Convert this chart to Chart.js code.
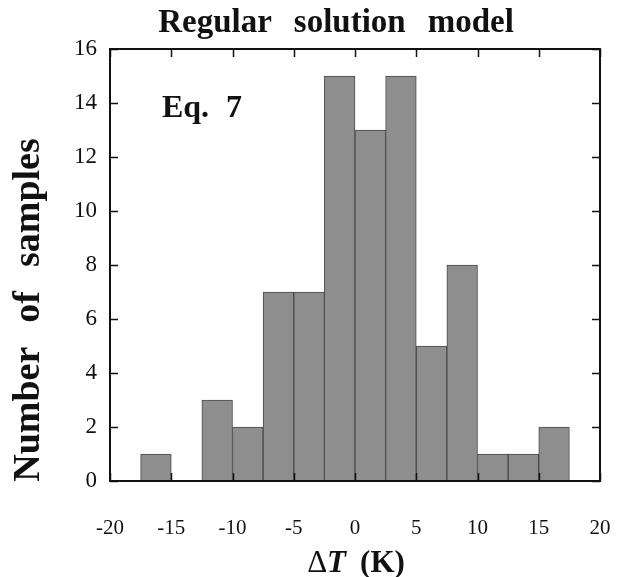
<!DOCTYPE html>
<html><head><meta charset="utf-8">
<script src="https://cdn.jsdelivr.net/npm/chart.js@4"></script>
<style>html,body{margin:0;padding:0;background:#fff}#wrap{width:628px;height:577px}</style>
</head><body><div id="wrap"><canvas id="c" width="628" height="577"></canvas></div>
<script>
const binCenters = [-16.25,-13.75,-11.25,-8.75,-6.25,-3.75,-1.25,1.25,3.75,6.25,8.75,11.25,13.75,16.25];
const counts = [1,0,3,2,7,7,15,13,15,5,8,1,1,2];
const xTicks = [-20,-15,-10,-5,0,5,10,15,20];
const yTicks = [0,2,4,6,8,10,12,14,16];
const titleWords = ['Regular', 'solution', 'model'];
const yTitleWords = ['Number', 'of', 'samples'];
const annotationWords = ['Eq.', '7'];

const SERIF = '"Liberation Serif", "Times New Roman", serif';

function drawWords(ctx, words, font, centerX, y, gap) {
  ctx.font = font;
  const ws = words.map(w => ctx.measureText(w).width);
  const total = ws.reduce((a, b) => a + b, 0) + gap * (words.length - 1);
  let x = centerX - total / 2;
  ctx.textAlign = 'left';
  words.forEach((w, i) => { ctx.fillText(w, x, y); x += ws[i] + gap; });
}

const decor = {
  id: 'decor',
  afterDraw(chart) {
    const ctx = chart.ctx, a = chart.chartArea;
    const xs = chart.scales.x, ys = chart.scales.y;
    ctx.save();
    ctx.strokeStyle = '#111'; ctx.lineWidth = 2;
    ctx.strokeRect(a.left, a.top, a.right - a.left, a.bottom - a.top);
    ctx.lineWidth = 1.5;
    ctx.beginPath();
    const tl = 8;
    xTicks.forEach(v => {
      const px = Math.round(xs.getPixelForValue(v)) + 0.5;
      ctx.moveTo(px, a.bottom); ctx.lineTo(px, a.bottom - tl);
      ctx.moveTo(px, a.top); ctx.lineTo(px, a.top + tl);
    });
    yTicks.forEach(v => {
      const py = Math.round(ys.getPixelForValue(v)) + 0.5;
      ctx.moveTo(a.left, py); ctx.lineTo(a.left + tl, py);
      ctx.moveTo(a.right, py); ctx.lineTo(a.right - tl, py);
    });
    ctx.stroke();
    ctx.fillStyle = '#111';
    ctx.textBaseline = 'alphabetic';
    drawWords(ctx, titleWords, 'bold 33px ' + SERIF, 336, 32, 22);
    drawWords(ctx, annotationWords, 'bold 32px ' + SERIF, 202, 117, 17);
    ctx.save();
    ctx.translate(39, 310);
    ctx.rotate(-Math.PI / 2);
    drawWords(ctx, yTitleWords, 'bold 38px ' + SERIF, 0, 0, 24);
    ctx.restore();
    const parts = [
      {t: '\u0394', f: '31px ' + SERIF, g: 0},
      {t: 'T', f: 'italic bold 31px ' + SERIF, g: 14},
      {t: '(K)', f: 'bold 31px ' + SERIF, g: 0}
    ];
    let total = 0;
    parts.forEach(p => { ctx.font = p.f; p.w = ctx.measureText(p.t).width; total += p.w + p.g; });
    let x = 356 - total / 2;
    ctx.textAlign = 'left';
    parts.forEach(p => { ctx.font = p.f; ctx.fillText(p.t, x, 572); x += p.w + p.g; });
    ctx.restore();
  }
};

new Chart(document.getElementById('c'), {
  type: 'bar',
  data: {
    datasets: [{
      data: binCenters.map((c, i) => ({x: c, y: counts[i]})),
      backgroundColor: '#8e8e8e',
      borderColor: '#4a4a4a',
      borderWidth: 1,
      barPercentage: 1.0,
      categoryPercentage: 1.0
    }]
  },
  options: {
    responsive: false,
    animation: false,
    layout: {padding: {top: 49, right: 28, left: 0, bottom: 0}},
    plugins: {legend: {display: false}, tooltip: {enabled: false}, title: {display: false}},
    scales: {
      x: {
        type: 'linear', min: -20, max: 20, offset: false,
        grid: {display: false, drawTicks: false},
        border: {display: false},
        afterBuildTicks(s) { s.ticks = xTicks.map(v => ({value: v})); },
        afterFit(s) { s.height = 577 - 481; s.paddingLeft = 0; s.paddingRight = 0; },
        ticks: {color: '#111', font: {family: SERIF, size: 21}, padding: 35, maxRotation: 0,
          callback: v => String(v)}
      },
      y: {
        min: 0, max: 16,
        grid: {display: false, drawTicks: false},
        border: {display: false},
        afterBuildTicks(s) { s.ticks = yTicks.map(v => ({value: v})); },
        afterFit(s) { s.width = 110; s.paddingTop = 0; s.paddingBottom = 0; },
        ticks: {color: '#111', font: {family: SERIF, size: 23}, padding: 13}
      }
    }
  },
  plugins: [decor]
});
</script>
</body></html>
